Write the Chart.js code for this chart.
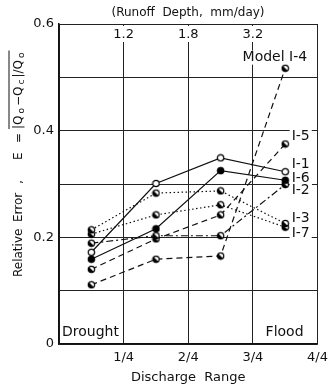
<!DOCTYPE html>
<html lang="en">
<head>
<meta charset="UTF-8">
<title>Relative Error vs Discharge Range</title>
<script src="https://cdn.jsdelivr.net/npm/chart.js"></script>
<style>
  html, body { margin: 0; padding: 0; background: #fff; }
  #wrap { width: 334px; height: 387px; }
</style>
</head>
<body>
<div id="wrap"><canvas id="chart" width="334" height="387"></canvas></div>
<script>
// discharge range midpoints (fraction of range)
const categories = [0.125, 0.375, 0.625, 0.875];

// relative error per model
const i1 = [0.172, 0.301, 0.349, 0.323];
const i6 = [0.159, 0.216, 0.325, 0.307];
const i2 = [0.189, 0.203, 0.203, 0.299];
const i3 = [0.214, 0.283, 0.287, 0.226];
const i7 = [0.206, 0.242, 0.261, 0.219];
const i5 = [0.140, 0.197, 0.242, 0.375];
const i4 = [0.111, 0.159, 0.165, 0.517];

const xTickLabels = { 0: '', 0.25: '1/4', 0.5: '2/4', 0.75: '3/4', 1: '4/4' };
const yTickLabels = { 0: '0', 0.2: '0.2', 0.4: '0.4', 0.6: '0.6' };
const runoffTicks = [[0.25, '1.2'], [0.5, '1.8'], [0.75, '3.2']];

const FONT = "'DejaVu Sans', sans-serif";

// small marker images
function marker(kind) {
    const c = document.createElement('canvas');
    c.width = 9; c.height = 9;
    const g = c.getContext('2d');
    g.beginPath();
    g.arc(4.5, 4.5, 3.2, 0, Math.PI * 2);
    g.fillStyle = kind === 'filled' ? '#000' : '#fff';
    g.fill();
    if (kind === 'half') {
        g.beginPath();
        g.arc(4.5, 4.5, 3.2, Math.PI * 0.25, Math.PI * 1.25);
        g.closePath();
        g.fillStyle = '#000';
        g.fill();
    }
    g.beginPath();
    g.arc(4.5, 4.5, 3.2, 0, Math.PI * 2);
    g.lineWidth = 1.2;
    g.strokeStyle = '#000';
    g.stroke();
    return c;
}

function series(label, vals, kind, dash) {
    return {
        label: label,
        data: vals.map((v, i) => ({ x: categories[i], y: v })),
        borderColor: '#111',
        borderWidth: 1.2,
        borderDash: dash,
        pointStyle: marker(kind),
        pointRadius: 4,
        fill: false,
        tension: 0
    };
}

// model labels at right (value coords)
const modelLabels = [
    ['Model I-4', 0.71, 0.537],
    ['I-5', 0.90, 0.390],
    ['I-1', 0.90, 0.336],
    ['I-6', 0.90, 0.311],
    ['I-2', 0.90, 0.289],
    ['I-3', 0.90, 0.236],
    ['I-7', 0.90, 0.208]
];

const annotate = {
    id: 'annotate',
    beforeDatasetsDraw(chart) {
        const ctx = chart.ctx;
        const xs = chart.scales.x, ys = chart.scales.y;
        ctx.save();
        ctx.textBaseline = 'middle';
        ctx.font = '13px ' + FONT;
        // top runoff depth labels
        ctx.textAlign = 'center';
        runoffTicks.forEach(([p, t]) => {
            const px = xs.getPixelForValue(p);
            const w = ctx.measureText(t).width;
            ctx.fillStyle = '#fff';
            ctx.fillRect(px - w / 2 - 2, ys.top + 2, w + 4, 16);
            ctx.fillStyle = '#111';
            ctx.fillText(t, px, ys.top + 11);
        });
        // model labels
        ctx.textAlign = 'left';
        ctx.font = '14px ' + FONT;
        modelLabels.forEach(([t, x, y]) => {
            const px = xs.getPixelForValue(x), py = ys.getPixelForValue(y);
            const w = ctx.measureText(t).width;
            ctx.fillStyle = '#fff';
            ctx.fillRect(px - 2, py - 7, w + 4, 14);
            ctx.fillStyle = '#111';
            ctx.fillText(t, px, py);
        });
        // Drought / Flood
        ctx.font = '14px ' + FONT;
        ctx.fillText('Drought', xs.getPixelForValue(0) + 3, ys.bottom - 12);
        ctx.textAlign = 'right';
        ctx.fillText('Flood', xs.getPixelForValue(1) - 14, ys.bottom - 12);
        ctx.restore();
    },
    afterDraw(chart) {
        const ctx = chart.ctx;
        ctx.save();
        ctx.fillStyle = '#111';
        ctx.textBaseline = 'middle';
        ctx.textAlign = 'center';
        ctx.font = '12px ' + FONT;
        ctx.fillText('(Runoff  Depth,  mm/day)', 188, 13);
        // rotated y-axis title
        ctx.translate(19, 277);
        ctx.rotate(-Math.PI / 2);
        ctx.textAlign = 'left';
        ctx.font = '12px ' + FONT;
        ctx.fillText('Relative', 0, 0);
        ctx.fillText('Error', 55, 0);
        ctx.fillText(',', 93, 0);
        ctx.fillText('E', 117, 0);
        ctx.fillText('=', 134, 0);
        let x = 148;
        const parts = [['|Q', 12], ['o', 9], ['\u2212Q', 12], ['c', 9], ['|/Q', 12], ['o', 9]];
        const start = x;
        parts.forEach(([t, s]) => {
            ctx.font = s + 'px ' + FONT;
            ctx.fillText(t, x, s < 12 ? 3 : 0);
            x += ctx.measureText(t).width + 2;
        });
        ctx.lineWidth = 1;
        ctx.strokeStyle = '#111';
        ctx.beginPath();
        ctx.moveTo(start, -10);
        ctx.lineTo(x, -10);
        ctx.stroke();
        ctx.restore();
    }
};

new Chart(document.getElementById('chart'), {
    type: 'line',
    data: {
        datasets: [
            series('I-1', i1, 'open', []),
            series('I-6', i6, 'filled', []),
            series('I-2', i2, 'half', [7, 3, 2, 3]),
            series('I-3', i3, 'half', [1.5, 2.5]),
            series('I-7', i7, 'half', [1.5, 2.5]),
            series('I-5', i5, 'half', [6, 4]),
            series('I-4', i4, 'half', [6, 4])
        ]
    },
    plugins: [annotate],
    options: {
        responsive: false,
        animation: false,
        layout: { padding: { top: 24, right: 12, left: 0, bottom: 0 } },
        plugins: { legend: { display: false }, tooltip: { enabled: false } },
        scales: {
            x: {
                type: 'linear',
                min: 0, max: 1,
                afterFit: s => { s.height = 43; },
                afterBuildTicks: s => { s.ticks = [0, 0.25, 0.5, 0.75, 1].map(v => ({ value: v })); },
                grid: { color: '#222', lineWidth: 1, drawTicks: false },
                border: { color: '#111', width: 1.5 },
                ticks: {
                    padding: 6,
                    color: '#111',
                    font: { family: FONT, size: 13 },
                    maxRotation: 0,
                    callback: v => xTickLabels[v] ?? ''
                },
                title: {
                    display: true,
                    text: 'Discharge  Range',
                    color: '#111',
                    font: { family: FONT, size: 13 },
                    padding: { top: 2, bottom: 2 }
                }
            },
            y: {
                min: 0, max: 0.6,
                afterFit: s => { s.width = 59; },
                afterBuildTicks: s => { s.ticks = [0, 0.1, 0.2, 0.3, 0.4, 0.5, 0.6].map(v => ({ value: v })); },
                grid: { color: '#222', lineWidth: 1, drawTicks: false },
                border: { color: '#111', width: 1.5 },
                ticks: {
                    padding: 5,
                    color: '#111',
                    font: { family: FONT, size: 13 },
                    callback: v => yTickLabels[Math.round(v * 10) / 10] ?? ''
                }
            }
        }
    }
});
</script>
</body>
</html>
